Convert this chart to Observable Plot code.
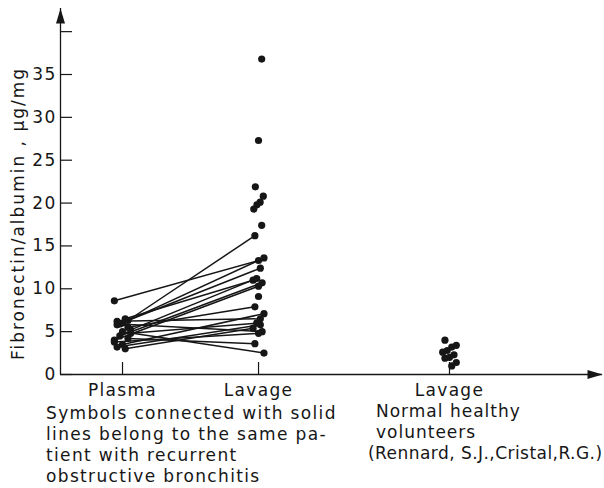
<!DOCTYPE html>
<html><head><meta charset="utf-8">
<script src="https://cdn.jsdelivr.net/npm/d3@7"></script>
<script src="https://cdn.jsdelivr.net/npm/@observablehq/plot@0.6"></script>
<style>
body{margin:0;background:#fff;}
#wrap{position:relative;width:604px;height:488px;font-family:"DejaVu Sans",sans-serif;color:#161616;overflow:hidden;}
.cap{position:absolute;font-size:17px;line-height:21px;white-space:pre;}
.cap div{height:21px;}
</style></head><body>
<div id="wrap"><div id="chart"></div>
<div class="cap" id="capL" style="left:46px;top:403px;letter-spacing:1.35px"></div>
<div class="cap" id="capR" style="left:368px;top:401px"></div>
</div>
<script>
// ---- data ----
const groupNames = ["Plasma", "Lavage", "Lavage"];
const groupPos = [1, 2, 3.404];
const yTicks = [0, 5, 10, 15, 20, 25, 30, 35];
const yTickMarks = [0, 5, 10, 15, 20, 25, 30, 35, 40];
const yLabel = "Fibronectin/albumin , µg/mg";
// patients with recurrent obstructive bronchitis (paired plasma -> lavage)
const plasmaVals = [8.6, 6.3, 6.0, 5.8, 5.2, 6.5, 4.5, 4.0, 5.5, 3.5, 6.2, 4.8, 3.0, 5.9, 3.8, 4.2, 5.0, 3.2];
const lavageVals = [13.3, 16.2, 13.6, 12.4, 11.2, 11.0, 10.7, 10.3, 7.9, 7.1, 6.5, 6.0, 5.4, 5.0, 4.8, 3.6, 2.5, 5.8];
// unpaired lavage values
const lavageExtra = [36.8, 27.3, 21.9, 20.8, 20.1, 19.8, 19.3, 17.4, 9.1];
// normal healthy volunteers, lavage
const normalVals = [4.0, 3.4, 3.2, 2.8, 2.6, 2.3, 2.0, 1.9, 1.4, 1.0];
const captionLeft = ["Symbols connected with solid", "lines belong to the same pa-", "tient with recurrent", "obstructive bronchitis"];
const captionRight = ["Normal healthy", "volunteers", "(Rennard, S.J.,Cristal,R.G.)"];

// small deterministic horizontal spread so overlapping symbols stay visible
const spread = (i, w) => (((i * 5) % 7) - 3) / 3 * w;

const pairs = plasmaVals.map((p, i) => ({
  x1: groupPos[0] + spread(i, 0.06), y1: p,
  x2: groupPos[1] + spread(i + 2, 0.04), y2: lavageVals[i]
}));
const extra = lavageExtra.map((v, i) => ({x: groupPos[1] + spread(i + 1, 0.035), y: v}));
const normals = normalVals.map((v, i) => ({x: groupPos[2] + spread(i + 3, 0.05), y: v}));

const xDomain = [0.544, 4.529];
const arrowHead = {draw(ctx) { ctx.moveTo(0, 0); ctx.lineTo(4.5, 15); ctx.lineTo(-4.5, 15); ctx.closePath(); }};
const ink = "#161616";

const chart = Plot.plot({
  width: 604, height: 400,
  marginLeft: 60, marginRight: 2, marginTop: 8, marginBottom: 26,
  style: {fontFamily: "DejaVu Sans, sans-serif", fontSize: "17px", color: ink, background: "#fff", letterSpacing: "1.3px", overflow: "visible"},
  x: {domain: xDomain, axis: null},
  y: {domain: [0, 42.7], axis: null},
  marks: [
    Plot.ruleX([xDomain[0]], {stroke: ink, strokeWidth: 1.3}),
    Plot.ruleY([0], {stroke: ink, strokeWidth: 1.3}),
    Plot.dot([0], {frameAnchor: "top-left", symbol: arrowHead, fill: ink, stroke: "none"}),
    Plot.dot([0], {frameAnchor: "bottom-right", symbol: arrowHead, rotate: 90, fill: ink, stroke: "none"}),
    Plot.axisY({ticks: yTickMarks, tickSize: -12, tickFormat: () => "", stroke: ink, strokeWidth: 1.2}),
    Plot.axisY({ticks: yTicks, tickSize: 0, tickPadding: 4, fontSize: 17, label: null, fill: ink}),
    Plot.axisX({ticks: groupPos, tickSize: -12, tickFormat: () => "", stroke: ink, strokeWidth: 1.2}),
    Plot.axisX({ticks: groupPos, tickSize: 0, tickPadding: 9, fontSize: 17, label: null, fill: ink,
      tickFormat: (d) => groupNames[groupPos.indexOf(d)]}),
    Plot.text([yLabel], {frameAnchor: "left", textAnchor: "middle", dx: -42, dy: 22, rotate: -90, fontSize: 17, fill: ink}),
    Plot.link(pairs, {x1: "x1", y1: "y1", x2: "x2", y2: "y2", stroke: ink, strokeWidth: 1.5}),
    Plot.dot(pairs, {x: "x1", y: "y1", r: 3.6, fill: ink, stroke: "none"}),
    Plot.dot(pairs, {x: "x2", y: "y2", r: 3.6, fill: ink, stroke: "none"}),
    Plot.dot(extra, {x: "x", y: "y", r: 3.6, fill: ink, stroke: "none"}),
    Plot.dot(normals, {x: "x", y: "y", r: 3.6, fill: ink, stroke: "none"})
  ]
});
d3.select(chart).selectAll("text").filter(function() { return this.textContent === yLabel; })
  .style("letter-spacing", "2px");
document.getElementById("chart").appendChild(chart);

const capL = document.getElementById("capL");
captionLeft.forEach((t) => { const d = document.createElement("div"); d.textContent = t; capL.appendChild(d); });
const capR = document.getElementById("capR");
const rightStyles = [["8px", "1px"], ["8px", "1px"], ["0px", "0.45px"]];
captionRight.forEach((t, i) => {
  const d = document.createElement("div"); d.textContent = t;
  d.style.paddingLeft = rightStyles[i][0]; d.style.letterSpacing = rightStyles[i][1];
  capR.appendChild(d);
});
</script>
</body></html>
